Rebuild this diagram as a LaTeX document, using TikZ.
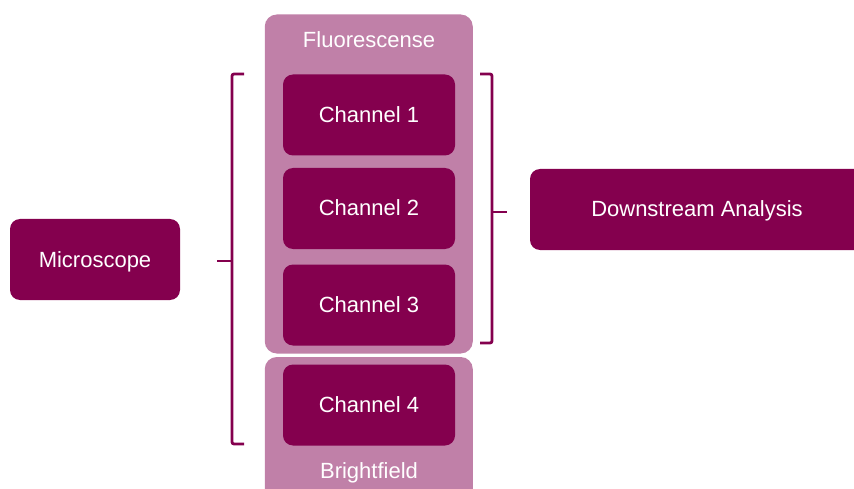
\documentclass[tikz,border=0pt]{standalone}
\usepackage{fontspec}
\setmainfont{Liberation Sans}
\usetikzlibrary{positioning}
\usetikzlibrary{calc}

\definecolor{plumdark}{RGB}{132,0,78}
\definecolor{plumlight}{RGB}{192,128,168}

\tikzset{
  chanbox/.style = {fill = plumdark, text = white, rounded corners = 10pt, inner sep = 0pt,
    minimum width = 172pt, minimum height = 81pt, text height = 15pt, text depth = 0pt,
    font = \fontsize{22}{26}\selectfont},
  groupbox/.style = {fill = plumlight, rounded corners = 12pt, inner sep = 0pt, minimum width = 208pt},
  grouplabel/.style = {text = white, inner sep = 0pt, font = \fontsize{22}{26}\selectfont},
  brace/.style = {draw = plumdark, line width = 2.8pt, rounded corners = 2pt}
}

\begin{document}
\begin{tikzpicture}[x=1pt, y=-1pt]

        \clip (0,0) rectangle (854,489);

        % draw the groups
        \node[groupbox, minimum height = 339pt] (fluo) at (368.75,184) {};
        \node[groupbox, minimum height = 160pt] (bright) at (368.75,437) {};
        \node[grouplabel] (fluo_label) at (369,40) {Fluorescense};
        \node[grouplabel, anchor = base] (bright_label) at (369,478) {Brightfield};

        % draw the channels
        \node[chanbox] (ch1) at (369,115) {Channel 1};
        \node[chanbox] (ch2) at (369,208.5) {Channel 2};
        \node[chanbox] (ch3) at (369,305) {Channel 3};
        \node[chanbox] (ch4) at (369,405) {Channel 4};

        % draw the outer boxes
        \node[chanbox, minimum width = 170pt] (microscope) at (95,259.5) {Microscope};
        \node[chanbox, minimum width = 334pt] (downstream) at (697,209.5) {Downstream Analysis};

        % Define brace points
        \coordinate (left_brace) at (232,261);
        \coordinate (right_brace) at (492,212);

        % draw the braces
        \draw[brace] ($(left_brace) + (12,-187)$) -- ($(left_brace) + (0,-187)$) -- ($(left_brace) + (0,183)$) -- ($(left_brace) + (12,183)$);
        \draw[brace] (left_brace) -- ($(left_brace) + (-15,0)$);
        \draw[brace] ($(right_brace) + (-12,-138)$) -- ($(right_brace) + (0,-138)$) -- ($(right_brace) + (0,131)$) -- ($(right_brace) + (-12,131)$);
        \draw[brace] (right_brace) -- ($(right_brace) + (15,0)$);

      \end{tikzpicture}
\end{document}
